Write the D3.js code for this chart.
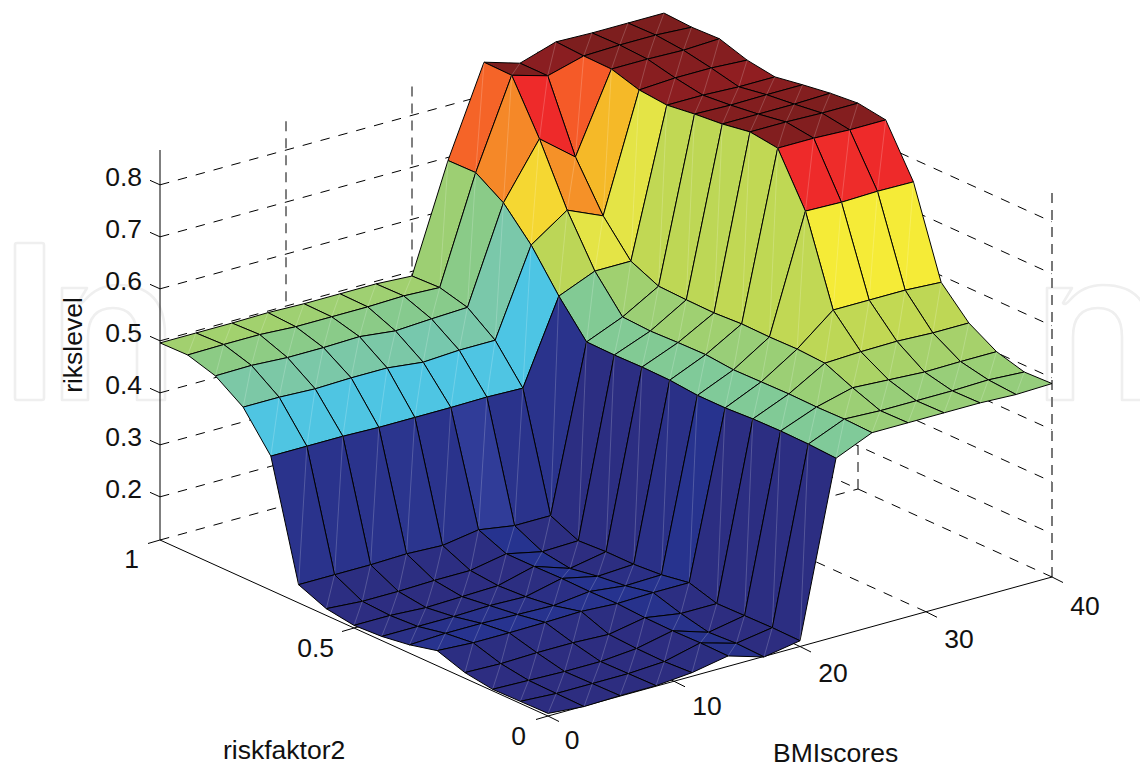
<!DOCTYPE html>
<html>
<head>
<meta charset="utf-8">
<script src="https://cdn.jsdelivr.net/npm/d3@7"></script>
<style>
html,body{margin:0;padding:0;background:#fff;overflow:hidden}
text{font-family:"Liberation Sans",Arial,sans-serif;font-size:26.5px;fill:#111}
</style>
</head>
<body>
<svg id="chart" width="1140" height="768"></svg>
<script>
// --- data ---
const bmiGrid = d3.range(15).map(k => k * 40 / 14);   // 15 mesh columns, 0..40
const riskGrid = d3.range(15).map(k => k / 14);       // 15 mesh rows, 0..1

const risk00 = [.122,.116,.118,.118,.124,.137,.116,.128,.460,.490,.490,.490,.490,.487,.489];
const risk01 = [.121,.117,.117,.117,.121,.138,.118,.129,.463,.492,.489,.489,.489,.491,.487];
const risk02 = [.120,.118,.116,.116,.122,.137,.115,.128,.464,.491,.509,.505,.501,.502,.502];
const risk03 = [.128,.126,.128,.128,.125,.138,.127,.127,.463,.492,.532,.535,.536,.533,.533];
const risk04 = [.146,.142,.142,.143,.145,.141,.143,.143,.460,.491,.535,.591,.591,.591,.587];
const risk05 = [.133,.136,.136,.134,.132,.140,.132,.134,.460,.490,.534,.757,.755,.757,.756];
const risk06 = [.125,.125,.125,.127,.125,.141,.126,.130,.465,.495,.535,.854,.854,.851,.851];
const risk07 = [.122,.122,.118,.120,.122,.140,.117,.130,.466,.494,.532,.861,.861,.859,.859];
const risk08 = [.130,.125,.125,.127,.127,.140,.125,.127,.465,.492,.533,.852,.852,.852,.854];
const risk09 = [.152,.152,.152,.154,.151,.162,.151,.151,.466,.495,.535,.847,.845,.846,.846];
const risk10 = [.375,.375,.375,.373,.373,.373,.374,.372,.530,.559,.559,.840,.840,.837,.837];
const risk11 = [.445,.445,.442,.444,.444,.436,.440,.440,.604,.652,.622,.845,.849,.849,.845];
const risk12 = [.481,.482,.478,.478,.480,.472,.476,.479,.661,.765,.711,.861,.861,.859,.862];
const risk13 = [.497,.498,.498,.494,.494,.494,.496,.493,.695,.863,.843,.862,.864,.864,.860];
const risk14 = [.496,.496,.496,.497,.495,.495,.495,.491,.694,.864,.843,.865,.863,.863,.863];
const rikslevel = [risk00,risk01,risk02,risk03,risk04,risk05,risk06,risk07,risk08,risk09,risk10,risk11,risk12,risk13,risk14];

const bmiTicks = [0,10,20,30,40];
const riskTicks = [0,0.5,1];
const levelTicks = [0.2,0.3,0.4,0.5,0.6,0.7,0.8];

const colorLevels = [.116,.130,.140,.152,.162,.370,.440,.466,.480,.495,.533,.559,.591,.604,.622,.652,.695,.711,.757,.765,.840,.860];
const colorValues = ["#2d2d80","#2c2e82","#26338f","#2a338c","#303c98","#4cc5e6","#7ac8aa","#82ca94","#8bcb87","#a0d070","#bed755","#e4e446","#f5eb37","#f5d732","#f5b928","#f59128","#f56428","#f55a28","#ee2a2a","#ee2a2a","#8c1e21","#7d1e1e"];

// --- oblique projection of the 3-D box, built from linear scales ---
const xRight = d3.scaleLinear().domain([0,40]).range([0,504]);
const xUp    = d3.scaleLinear().domain([0,40]).range([0,-139]);
const yRight = d3.scaleLinear().domain([0,1]).range([0,-388]);
const yUp    = d3.scaleLinear().domain([0,1]).range([0,-176]);
const zUp    = d3.scaleLinear().domain([.117,.867]).range([0,-390]);
const origin = [548,716];
const project = (x,y,z) => [origin[0]+xRight(x)+yRight(y), origin[1]+xUp(x)+yUp(y)+zUp(z)];
const color = d3.scaleLinear().domain(colorLevels).range(colorValues).clamp(true);

const zMin = .117, zMax = .867;
const svg = d3.select("#chart");
const line = d3.line();

// faint publisher watermark behind the chart
const wm = svg.append("g").attr("fill","none").attr("stroke","#efefef").attr("stroke-width",2.6).attr("stroke-linejoin","round");
wm.append("rect").attr("x",15).attr("y",243).attr("width",29).attr("height",157).attr("rx",2);
const nPath = "M62,400V288H87L78,303Q80,306 85,300Q98,285 118,285Q165,285 165,335V400H137V337Q137,308 113,308Q88,308 88,337V400Z";
wm.append("path").attr("d",nPath);
wm.append("path").attr("d",nPath).attr("transform","translate(985,0)");

const gBack = svg.append("g").attr("fill","none").attr("stroke","#000").attr("stroke-width",1);
function seg(g,a,b,dash){
  const p = g.append("path").attr("d", line([a,b]));
  if(dash) p.attr("stroke-dasharray",dash);
  return p;
}
const slanted = "9.5,9", upright = "10,7";
// back-wall level grid lines
levelTicks.forEach(z=>{
  seg(gBack,project(0,1,z),project(40,1,z),slanted);
  seg(gBack,project(40,1,z),project(40,0,z),slanted);
});
// vertical grid lines on the walls
bmiTicks.filter(v=>v>0).forEach(v=>seg(gBack,project(v,1,zMin),project(v,1,zMax),upright));
riskTicks.filter(v=>v<1).forEach(v=>{
  const p = seg(gBack,project(40,v,zMin),project(40,v,zMax),upright);
  if(v===0) p.attr("stroke","#777").attr("stroke-width",2);
});
// floor grid lines
bmiTicks.filter(v=>v>0).forEach(v=>seg(gBack,project(v,0,zMin),project(v,1,zMin),slanted));
riskTicks.filter(v=>v>0).forEach(v=>seg(gBack,project(0,v,zMin),project(40,v,zMin),slanted));

// solid axes
seg(gBack,project(0,1,zMin),project(0,1,zMax));
seg(gBack,project(0,0,zMin),project(40,0,zMin));
seg(gBack,project(0,0,zMin),project(0,1,zMin));
// ticks
bmiTicks.forEach(v=>{const a=project(v,0,zMin); seg(gBack,a,[a[0]+11,a[1]+5.5]);});
riskTicks.forEach(v=>{const a=project(0,v,zMin); seg(gBack,a,[a[0]-12,a[1]+3.5]);});
levelTicks.forEach(z=>{const a=project(0,1,z); seg(gBack,a,[a[0]-10,a[1]-4.5]);});

// surface: far faces first, each coloured by its lowest-index corner
const gSurf = svg.append("g");
const faces = [];
for(let i=13;i>=0;i--) for(let j=13;j>=0;j--) faces.push({i,j});
const corner = (i,j)=>project(bmiGrid[i],riskGrid[j],rikslevel[j][i]);
const sel = gSurf.selectAll("g").data(faces).join("g");
sel.append("path")
  .attr("d",d=>line([corner(d.i,d.j),corner(d.i+1,d.j),corner(d.i+1,d.j+1),corner(d.i,d.j+1)])+"Z")
  .attr("fill",d=>color(rikslevel[d.j][d.i]))
  .attr("stroke","#000").attr("stroke-width",1).attr("stroke-linejoin","round");
sel.append("path")
  .attr("d",d=>line([corner(d.i,d.j),corner(d.i+1,d.j+1)]))
  .attr("stroke","#fff").attr("stroke-opacity",.28).attr("stroke-width",.7).attr("fill","none");

// labels
const lab = svg.append("g");
lab.selectAll(".zt").data(levelTicks).join("text").attr("class","zt")
  .attr("x",142).attr("y",d=>project(0,1,d)[1]+1).attr("text-anchor","end").text(d=>d);
lab.selectAll(".yt").data(riskTicks).join("text").attr("class","yt")
  .attr("x",d=>d===0?526:d===1?139:334).attr("y",d=>d===0?745:d===1?568:657)
  .attr("text-anchor","end").text(d=>d);
lab.selectAll(".xt").data(bmiTicks).join("text").attr("class","xt")
  .attr("x",d=>d===0?572:project(d,0,zMin)[0]+33)
  .attr("y",d=>749-d*3.36).attr("text-anchor","middle").text(d=>d);
lab.append("text").attr("x",223).attr("y",759).text("riskfaktor2");
lab.append("text").attr("x",773).attr("y",762).text("BMIscores");
lab.append("text").attr("transform","translate(82,345) rotate(-90)").attr("text-anchor","middle").text("rikslevel");
</script>
</body>
</html>
